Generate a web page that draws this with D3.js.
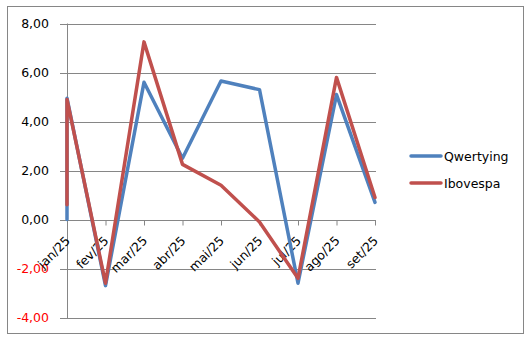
<!DOCTYPE html>
<html>
<head>
<meta charset="utf-8">
<script src="https://cdn.jsdelivr.net/npm/d3@7"></script>
<style>
  body { margin: 0; background: #fff; }
  text { font-family: "DejaVu Sans", Verdana, sans-serif; font-size: 12.5px; }
</style>
</head>
<body>
<div id="chart"></div>
<script>
// months shown on the axis
var categories = ["jan/25", "fev/25", "mar/25", "abr/25", "mai/25", "jun/25", "jul/25", "ago/25", "set/25"];
// each point's month (jan/25 holds two points)
var pointMonths = ["jan/25", "jan/25", "fev/25", "mar/25", "abr/25", "mai/25", "jun/25", "jul/25", "ago/25", "set/25"];
var qwertyingValues = [0.0, 4.95, -2.7, 5.6, 2.5, 5.65, 5.3, -2.6, 5.1, 0.7];
var ibovespaValues = [0.6, 4.9, -2.6, 7.25, 2.25, 1.4, -0.1, -2.4, 5.8, 0.9];
var yTicks = [-4, -2, 0, 2, 4, 6, 8];
var seriesNames = ["Qwertying", "Ibovespa"];

var width = 531, height = 341;
var plot = {left: 67, right: 375, top: 23.5, bottom: 317.5};

var locale = d3.formatLocale({decimal: ",", thousands: ".", grouping: [3], currency: ["R$", ""], minus: "-"});
var fmt = locale.format(".2f");

var svg = d3.select("#chart").append("svg")
    .attr("width", width)
    .attr("height", height);

// outer frame
svg.append("rect")
    .attr("x", 7.5).attr("y", 6.5)
    .attr("width", 516).attr("height", 327)
    .attr("fill", "white")
    .attr("stroke", "#868686");

var x = d3.scalePoint()
    .domain(categories)
    .range([plot.left, plot.right]);

var y = d3.scaleLinear()
    .domain([-4, 8])
    .range([plot.bottom, plot.top]);

// horizontal gridlines
svg.append("g").selectAll("line")
    .data(yTicks)
    .enter().append("line")
    .attr("x1", plot.left - 7).attr("x2", plot.right + 1)
    .attr("y1", function (d) { return Math.round(y(d)) + 0.5; })
    .attr("y2", function (d) { return Math.round(y(d)) + 0.5; })
    .attr("stroke", "#868686");

// y axis line
svg.append("line")
    .attr("x1", plot.left + 0.5).attr("x2", plot.left + 0.5)
    .attr("y1", y(8)).attr("y2", y(-4) + 0.5)
    .attr("stroke", "#868686");

// y labels
svg.append("g").selectAll("text")
    .data(yTicks)
    .enter().append("text")
    .attr("x", 49)
    .attr("y", function (d) { return y(d); })
    .attr("dy", "0.36em")
    .attr("text-anchor", "end")
    .attr("fill", function (d) { return d < 0 ? "#ff0000" : "#000"; })
    .text(function (d) { return fmt(d); });

// category axis at zero
var xAxis = d3.axisBottom(x).tickSize(5).tickFormat("");
var xg = svg.append("g")
    .attr("transform", "translate(0," + (Math.round(y(0)) + 0.5) + ")")
    .call(xAxis);
xg.select(".domain").remove();
xg.selectAll(".tick line").attr("stroke", "#868686");

svg.append("g").selectAll("text")
    .data(categories)
    .enter().append("text")
    .attr("text-anchor", "end")
    .attr("transform", function (d) {
        return "translate(" + (x(d) + 4) + "," + (y(0) + 22) + ") rotate(-45)";
    })
    .attr("fill", "#000")
    .text(function (d) { return d; });

// series lines
var colors = ["#4f81bd", "#c0504d"];
var series = [qwertyingValues, ibovespaValues];

var line = d3.line()
    .x(function (d, i) { return x(pointMonths[i]); })
    .y(function (d) { return y(d); });

series.forEach(function (vals, k) {
    svg.append("path")
        .datum(vals)
        .attr("d", line)
        .attr("fill", "none")
        .attr("stroke", colors[k])
        .attr("stroke-width", 3.5)
        .attr("stroke-linejoin", "round")
        .attr("stroke-linecap", "round");
});

// legend
var legend = svg.append("g").selectAll("g")
    .data(seriesNames)
    .enter().append("g")
    .attr("transform", function (d, i) { return "translate(410," + (156 + i * 27) + ")"; });

legend.append("line")
    .attr("x1", 1).attr("x2", 31)
    .attr("stroke", function (d, i) { return colors[i]; })
    .attr("stroke-width", 3.5)
    .attr("stroke-linecap", "round");

legend.append("text")
    .attr("x", 34)
    .attr("dy", "0.36em")
    .text(function (d) { return d; });
</script>
</body>
</html>
